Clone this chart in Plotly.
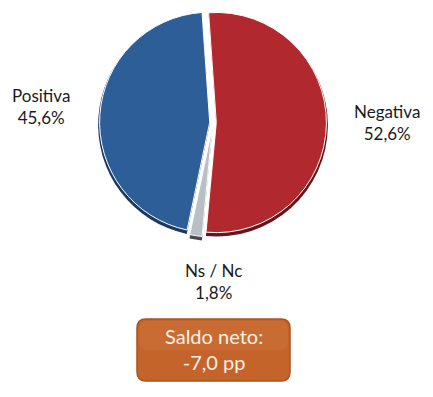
import plotly.graph_objects as go

categories = ["Negativa", "Ns / Nc", "Positiva"]
values = [52.6, 1.8, 45.6]
colors = ["#b1282e", "#b9c0c5", "#2e5e98"]
shadow_colors = ["#6a1418", "#4a4a4a", "#1b3a63"]
pulls = [0.03, 0.04, 0.03]
saldo_text = "Saldo neto:<br>-7,0 pp"

W, H = 433, 397
OFF = 8  # page body margin
FW, FH = W - OFF, H - OFF
FONT = "Lato, 'Open Sans', sans-serif"

def px_to_paper_x(px):
    return (px - OFF) / FW

def px_to_paper_y(py):
    return 1 - (py - OFF) / FH

def clamp(v):
    return max(0.0, min(1.0, v))

cx, cy, size = 213, 121, 232

def domain(dy=0):
    return dict(
        x=[clamp(px_to_paper_x(cx - size / 2)), clamp(px_to_paper_x(cx + size / 2))],
        y=[clamp(px_to_paper_y(cy + dy + size / 2)), clamp(px_to_paper_y(cy + dy - size / 2))],
    )

fig = go.Figure()
fig.add_trace(go.Pie(
    labels=categories, values=values, sort=False, direction="clockwise",
    rotation=-4, pull=pulls, textinfo="none", hoverinfo="skip",
    marker=dict(colors=shadow_colors, line=dict(width=0)),
    domain=domain(4), showlegend=False,
))
fig.add_trace(go.Pie(
    labels=categories, values=values, sort=False, direction="clockwise",
    rotation=-4, pull=pulls, textinfo="none",
    marker=dict(colors=colors, line=dict(color="white", width=1)),
    domain=domain(0), showlegend=False,
))

label_pos = {"Negativa": (387, 122), "Ns / Nc": (213, 281), "Positiva": (41, 106)}
for cat, val in zip(categories, values):
    x, y = label_pos[cat]
    fig.add_annotation(
        x=px_to_paper_x(x), y=px_to_paper_y(y), xref="paper", yref="paper",
        xanchor="center", yanchor="middle",
        text=f"{cat}<br>{val:.1f}%".replace(".", ","), showarrow=False,
        font=dict(family=FONT, size=17, color="#1a1a1a"), align="center",
    )

# rounded box
x0, x1, y0, y1, r = 137, 290, 319, 381, 9
rx, ry = r / FW, r / FH

def rounded(x0, x1, y0, y1):
    X0, X1 = px_to_paper_x(x0), px_to_paper_x(x1)
    Y0, Y1 = px_to_paper_y(y1), px_to_paper_y(y0)
    return (f"M {X0+rx},{Y0} L {X1-rx},{Y0} Q {X1},{Y0} {X1},{Y0+ry} "
            f"L {X1},{Y1-ry} Q {X1},{Y1} {X1-rx},{Y1} L {X0+rx},{Y1} "
            f"Q {X0},{Y1} {X0},{Y1-ry} L {X0},{Y0+ry} Q {X0},{Y0} {X0+rx},{Y0} Z")

fig.add_shape(type="path", path=rounded(x0, x1, y0, y1), xref="paper", yref="paper",
              fillcolor="#c4642a", line=dict(color="#a9531f", width=1.5))
fig.add_shape(type="path", path=rounded(x0 + 2, x1 - 2, y0 + 2, (y0 + y1) / 2),
              xref="paper", yref="paper",
              fillcolor="rgba(255,220,180,0.07)", line=dict(width=0))
fig.add_annotation(
    x=px_to_paper_x((x0 + x1) / 2), y=px_to_paper_y((y0 + y1) / 2 - 1),
    xref="paper", yref="paper", xanchor="center", yanchor="middle",
    text=saldo_text, showarrow=False,
    font=dict(family=FONT, size=20, color="#fdf0e4"), align="center",
)

fig.update_layout(
    width=FW, height=FH, margin=dict(l=0, r=0, t=0, b=0),
    paper_bgcolor="white", plot_bgcolor="white",
)
fig.write_html("out.html")
